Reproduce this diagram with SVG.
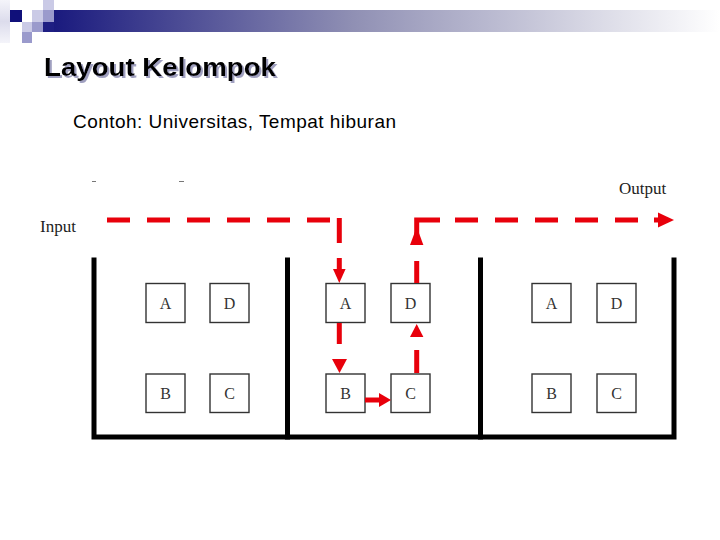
<svg xmlns="http://www.w3.org/2000/svg" width="720" height="540" viewBox="0 0 720 540">
<style>
.box{fill:#fff;stroke:#333;stroke-width:1.4}
.lbl{font-family:"Liberation Serif","Times New Roman",serif;font-size:16px;fill:#333;text-anchor:middle}
.wall{stroke:#000;stroke-width:5;fill:none;stroke-linecap:square}
.flow{stroke:#e8000b;stroke-width:5;fill:none}
.io{font-family:"Liberation Serif","Times New Roman",serif;font-size:17px;fill:#222}
</style>
<defs>
<linearGradient id="bar" x1="0" y1="0" x2="1" y2="0">
<stop offset="0" stop-color="#1a1a7e"/>
<stop offset="0.45" stop-color="#9090b4"/>
<stop offset="1" stop-color="#ffffff"/>
</linearGradient>
<linearGradient id="col" x1="0" y1="0" x2="0" y2="1">
<stop offset="0" stop-color="#f4f4fa"/>
<stop offset="0.5" stop-color="#dcdcec"/>
<stop offset="1" stop-color="#f4f4fa"/>
</linearGradient>
<filter id="shadow" x="-5%" y="-20%" width="115%" height="150%">
<feFlood flood-color="#a0a0c0"/>
<feComposite in2="SourceAlpha" operator="in"/>
<feOffset dx="2" dy="2" result="sh"/>
<feMerge><feMergeNode in="sh"/><feMergeNode in="SourceGraphic"/></feMerge>
</filter>
</defs>
<rect width="720" height="540" fill="#fff"/>
<g id="header">
<rect x="0" y="0" width="10" height="43" fill="url(#col)"/>
<rect x="54" y="10" width="666" height="22" fill="url(#bar)"/>
<rect x="43" y="22" width="11" height="10" fill="#1e1e82"/>
<rect x="10" y="10" width="12" height="12" fill="#10107a"/>
<rect x="32" y="10" width="11" height="12" fill="#cacae6"/>
<rect x="43" y="10" width="11" height="12" fill="#9a9acc"/>
<rect x="43" y="0" width="11" height="10" fill="#cacae6"/>
<rect x="22" y="22" width="10" height="10" fill="#cacae6"/>
<rect x="32" y="22" width="11" height="10" fill="#9a9acc"/>
<rect x="22" y="32" width="10" height="11" fill="#9a9acc"/>
</g>
<g id="title">
<text x="44" y="76" font-family="Liberation Sans, Arial, sans-serif" font-size="26" font-weight="bold" fill="#000" filter="url(#shadow)" textLength="232" lengthAdjust="spacingAndGlyphs">Layout Kelompok</text>
<text x="73" y="128" font-family="Liberation Sans, Arial, sans-serif" font-size="19" fill="#000" textLength="323" lengthAdjust="spacing">Contoh: Universitas, Tempat hiburan</text>
</g>
<g id="marks" stroke="#777" stroke-width="1">
<line x1="92" y1="181.5" x2="96" y2="181.5"/>
<line x1="179" y1="181.5" x2="184" y2="181.5"/>
</g>
<g id="walls">
<path class="wall" d="M94,260 V437 H674 V260"/>
<line class="wall" x1="287.5" y1="260" x2="287.5" y2="437"/>
<line class="wall" x1="480.5" y1="260" x2="480.5" y2="437"/>
</g>
<g id="group-left">
<g id="L-A"><rect class="box" x="146" y="283.5" width="39" height="39"/><text class="lbl" x="165.5" y="308.5">A</text></g>
<g id="L-D"><rect class="box" x="210" y="283.5" width="39" height="39"/><text class="lbl" x="229.5" y="308.5">D</text></g>
<g id="L-B"><rect class="box" x="146" y="374" width="39" height="38.5"/><text class="lbl" x="165.5" y="399">B</text></g>
<g id="L-C"><rect class="box" x="210" y="374" width="39" height="38.5"/><text class="lbl" x="229.5" y="399">C</text></g>
</g>
<g id="group-mid">
<g id="M-A"><rect class="box" x="326" y="283.5" width="39" height="39"/><text class="lbl" x="345.5" y="308.5">A</text></g>
<g id="M-D"><rect class="box" x="391" y="283.5" width="39" height="39"/><text class="lbl" x="410.5" y="308.5">D</text></g>
<g id="M-B"><rect class="box" x="326" y="374" width="39" height="38.5"/><text class="lbl" x="345.5" y="399">B</text></g>
<g id="M-C"><rect class="box" x="391" y="374" width="39" height="38.5"/><text class="lbl" x="410.5" y="399">C</text></g>
</g>
<g id="group-right">
<g id="R-A"><rect class="box" x="532" y="283.5" width="39" height="39"/><text class="lbl" x="551.5" y="308.5">A</text></g>
<g id="R-D"><rect class="box" x="597" y="283.5" width="39" height="39"/><text class="lbl" x="616.5" y="308.5">D</text></g>
<g id="R-B"><rect class="box" x="532" y="374" width="39" height="38.5"/><text class="lbl" x="551.5" y="399">B</text></g>
<g id="R-C"><rect class="box" x="597" y="374" width="39" height="38.5"/><text class="lbl" x="616.5" y="399">C</text></g>
</g>
<g id="io">
<text class="io" x="40" y="232">Input</text>
<text class="io" x="619" y="194">Output</text>
</g>
<g id="connectors" fill="#e8000b">
<path class="flow" d="M107,220 H330" stroke-dasharray="23 17"/>
<path class="flow" d="M339.3,218 V243"/>
<path class="flow" d="M339.3,258 V270"/>
<polygon points="333,269 345.6,269 339.3,283"/>
<path class="flow" d="M339.3,323 V344"/>
<polygon points="332,359 347,359 339.5,373"/>
<path class="flow" d="M365,400 H379"/>
<polygon points="379,393 379,407 391,400"/>
<path class="flow" d="M416.7,373 V350"/>
<polygon points="410,337 423.4,337 416.7,324"/>
<path class="flow" d="M416.7,283 V261"/>
<polygon points="410,245 423.4,245 416.7,227"/>
<path class="flow" d="M416.7,237 V220 H440"/>
<path class="flow" d="M455,220 H640" stroke-dasharray="23 17"/>
<path class="flow" d="M654,220 H661"/>
<polygon points="658,212.5 658,227.5 674,220"/>
</g>
</svg>
